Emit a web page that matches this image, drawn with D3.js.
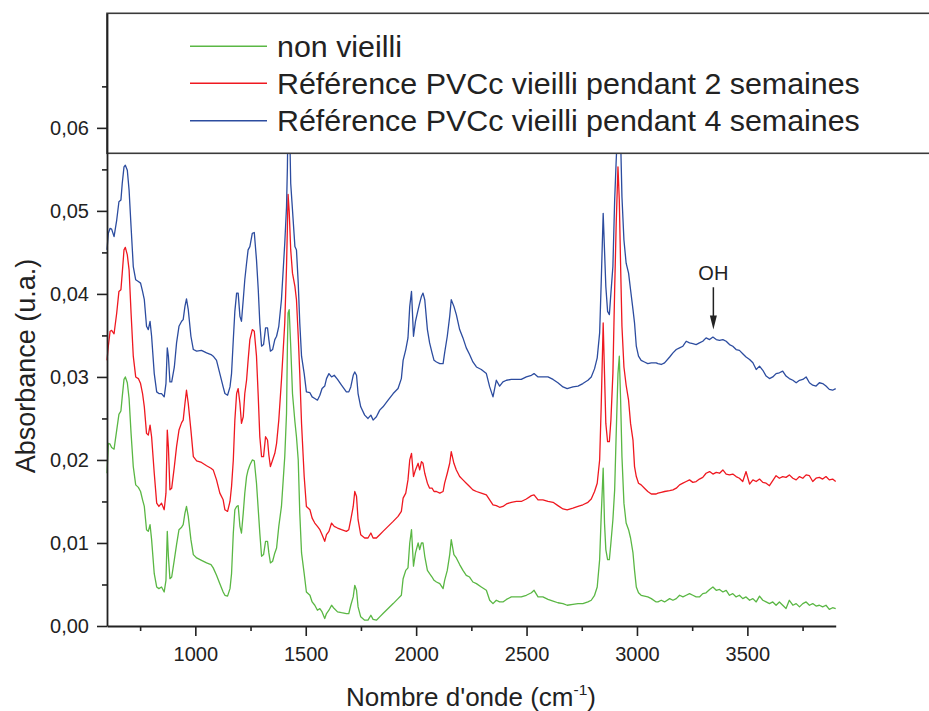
<!DOCTYPE html>
<html><head><meta charset="utf-8">
<script src="https://cdn.jsdelivr.net/npm/d3@7/dist/d3.min.js"></script>
<style>
html,body{margin:0;padding:0;background:#fff;}
svg{display:block;font-family:"Liberation Sans",Arial,Helvetica,sans-serif;}
</style></head>
<body>
<svg id="chart" width="929" height="711"></svg>
<script>
// ---- Data ----
const wavenumbers = [
600,606,614,621,632,644,654,663,669,677,683,692,700,709,719,730,742,752,761,769,
779,787,795,802,814,825,835,847,859,867,873,878,885,893,905,915,926,938,945,953,
960,968,980,991,1006,1028,1051,1071,1081,1096,1111,1126,1134,1146,1157,1164,1172,1179,1187,1194,
1202,1209,1217,1224,1232,1239,1247,1258,1267,1277,1285,1292,1300,1309,1318,1327,1333,1340,1350,1360,
1368,1378,1390,1405,1413,1417,1420,1425,1432,1440,1451,1458,1466,1473,1481,1493,
1503,1519,1529,1541,1553,1564,1574,1586,1594,1605,1617,1629,1644,1662,1684,1695,1704,1715,1722,1730,
1737,1749,1767,1782,1795,1805,1820,1835,1850,1873,1896,1918,1933,1941,1953,1963,1971,1979,1988,1997,
2009,2016,2024,2031,2039,2051,2061,2072,2081,2092,2107,2122,2129,2141,2152,2159,2171,2182,2197,2212,
2227,2242,2257,2273,2295,2318,2333,2348,
2363,2378,2393,2409,2431,2454,2476,2499,2522,2534,2552,2574,2597,2620,2642,2665,2684,2710,2733,2755,
2778,2793,2808,2820,2831,2838,2847,2853,2859,2867,2875,2882,2891,2899,2906,2914,2920,2926,2932,2941,
2951,2962,2971,2982,2989,2997,3007,3019,3034,3049,3065,3087,
3095,3110,3125,3148,3163,3178,3193,3208,3223,3238,3253,3268,3283,3298,3313,3329,3344,3359,3374,3389,
3404,3419,3434,3449,3464,3479,3494,3510,3525,3540,3555,3570,3585,3600,3615,3630,3645,3660,3675,3690,
3706,3721,3736,3751,3766,3781,3796,3811,3826,3841,3856,3871,3886,3900
];

const nonVieilli = [
0.0184,0.0220,0.0219,0.0215,0.0213,0.0236,0.0255,0.0259,0.0276,0.0297,
0.0300,0.0293,0.0274,0.0232,0.0192,0.0170,0.0167,0.0162,0.0152,0.0144,
0.0116,0.0114,0.0122,0.0104,0.0063,0.0047,0.0045,0.0047,0.0041,0.0055,
0.0114,0.0084,0.0057,0.0059,0.0080,0.0098,0.0116,0.0119,0.0122,0.0136,
0.0144,0.0132,0.0104,0.0086,0.0082,0.0079,0.0076,0.0074,0.0070,0.0061,
0.0051,0.0041,0.0037,0.0036,0.0045,0.0063,0.0112,0.0140,0.0144,0.0145,
0.0120,0.0112,0.0136,0.0160,0.0180,0.0188,0.0194,0.0200,0.0199,0.0172,
0.0140,0.0112,0.0084,0.0086,0.0102,0.0102,0.0088,0.0076,0.0078,0.0088,
0.0094,0.0120,0.0144,0.0204,0.0256,0.0337,0.0377,0.0381,0.0337,0.0280,
0.0246,0.0228,0.0200,0.0136,0.0088,0.0063,
0.0041,0.0037,0.0029,0.0025,0.0019,0.0021,0.0017,0.0009,0.0015,0.0019,
0.0025,0.0021,0.0017,0.0016,0.0015,0.0015,0.0025,0.0035,0.0049,0.0043,
0.0023,0.0011,0.0007,0.0007,0.0013,0.0008,0.0007,0.0011,0.0015,0.0021,
0.0027,0.0033,0.0037,0.0057,0.0067,0.0070,0.0100,0.0116,0.0072,0.0088,
0.0100,0.0092,0.0100,0.0100,0.0084,0.0067,0.0063,0.0059,0.0055,0.0053,
0.0051,0.0045,0.0055,0.0067,0.0086,0.0104,0.0086,0.0082,0.0074,0.0067,
0.0061,0.0059,0.0053,0.0051,0.0047,0.0043,0.0031,0.0027,
0.0031,0.0029,0.0029,0.0032,0.0035,0.0035,0.0035,0.0037,0.0040,0.0043,
0.0035,0.0035,0.0032,0.0030,0.0028,0.0027,0.0025,0.0026,0.0027,0.0027,
0.0029,0.0031,0.0037,0.0047,0.0080,0.0132,0.0190,0.0124,0.0092,0.0080,
0.0080,0.0100,0.0128,0.0164,0.0232,0.0304,0.0325,0.0272,0.0204,0.0148,
0.0124,0.0116,0.0106,0.0088,0.0067,0.0047,0.0040,0.0037,0.0036,0.0035,
0.0033,0.0029,
0.0029,0.0031,0.0029,0.0033,0.0031,0.0033,0.0037,0.0035,0.0037,0.0039,
0.0037,0.0035,0.0035,0.0039,0.0040,0.0044,0.0047,0.0043,0.0044,0.0041,
0.0043,0.0037,0.0039,0.0035,0.0037,0.0033,0.0035,0.0031,0.0033,0.0029,
0.0036,0.0031,0.0029,0.0027,0.0029,0.0025,0.0029,0.0025,0.0021,0.0031,
0.0025,0.0027,0.0023,0.0027,0.0029,0.0025,0.0027,0.0024,0.0025,0.0023,
0.0025,0.0020,0.0022,0.0021
];

const vieilli2sem = [
0.0320,0.0337,0.0355,0.0356,0.0352,0.0377,0.0403,0.0405,0.0425,0.0453,
0.0456,0.0447,0.0429,0.0377,0.0325,0.0300,0.0298,0.0292,0.0280,0.0264,
0.0232,0.0230,0.0242,0.0228,0.0184,0.0148,0.0144,0.0148,0.0140,0.0160,
0.0236,0.0216,0.0164,0.0166,0.0192,0.0216,0.0236,0.0245,0.0248,0.0268,
0.0284,0.0268,0.0236,0.0204,0.0199,0.0197,0.0193,0.0190,0.0188,0.0176,
0.0160,0.0152,0.0140,0.0138,0.0150,0.0168,0.0200,0.0248,0.0280,0.0286,
0.0268,0.0244,0.0252,0.0280,0.0296,0.0320,0.0345,0.0357,0.0355,0.0325,
0.0276,0.0228,0.0204,0.0204,0.0228,0.0224,0.0206,0.0192,0.0200,0.0208,
0.0220,0.0248,0.0296,0.0365,0.0433,0.0481,0.0520,0.0500,0.0453,0.0425,
0.0409,0.0393,0.0349,0.0304,0.0244,0.0180,
0.0144,0.0140,0.0130,0.0124,0.0120,0.0116,0.0110,0.0102,0.0110,0.0114,
0.0124,0.0120,0.0118,0.0116,0.0114,0.0116,0.0128,0.0144,0.0162,0.0156,
0.0128,0.0110,0.0106,0.0106,0.0112,0.0106,0.0106,0.0110,0.0114,0.0120,
0.0126,0.0132,0.0138,0.0154,0.0160,0.0176,0.0200,0.0208,0.0180,0.0188,
0.0196,0.0188,0.0198,0.0196,0.0184,0.0172,0.0166,0.0166,0.0162,0.0162,
0.0160,0.0162,0.0172,0.0184,0.0196,0.0210,0.0196,0.0188,0.0180,0.0176,
0.0172,0.0168,0.0164,0.0162,0.0160,0.0158,0.0152,0.0146,
0.0145,0.0143,0.0144,0.0147,0.0149,0.0150,0.0150,0.0153,0.0157,0.0158,
0.0152,0.0152,0.0150,0.0149,0.0145,0.0141,0.0140,0.0142,0.0144,0.0146,
0.0149,0.0153,0.0162,0.0172,0.0200,0.0264,0.0365,0.0304,0.0244,0.0222,
0.0222,0.0248,0.0304,0.0405,0.0485,0.0553,0.0513,0.0433,0.0361,0.0312,
0.0290,0.0272,0.0244,0.0224,0.0192,0.0180,0.0172,0.0170,0.0166,0.0162,
0.0159,0.0159,
0.0160,0.0161,0.0162,0.0163,0.0164,0.0166,0.0170,0.0172,0.0174,0.0176,
0.0173,0.0174,0.0177,0.0179,0.0184,0.0186,0.0183,0.0185,0.0184,0.0188,
0.0183,0.0182,0.0183,0.0180,0.0178,0.0174,0.0186,0.0171,0.0176,0.0174,
0.0177,0.0173,0.0172,0.0169,0.0175,0.0181,0.0178,0.0180,0.0179,0.0182,
0.0178,0.0176,0.0180,0.0178,0.0182,0.0181,0.0174,0.0178,0.0179,0.0177,
0.0180,0.0176,0.0177,0.0174
];

const vieilli4sem = [
0.0453,0.0473,0.0479,0.0478,0.0469,0.0489,0.0511,0.0513,0.0533,0.0553,
0.0555,0.0549,0.0525,0.0481,0.0433,0.0417,0.0415,0.0413,0.0403,0.0393,
0.0361,0.0357,0.0367,0.0349,0.0304,0.0282,0.0280,0.0280,0.0276,0.0292,
0.0335,0.0325,0.0294,0.0294,0.0312,0.0341,0.0361,0.0367,0.0369,0.0385,
0.0394,0.0381,0.0349,0.0333,0.0331,0.0332,0.0329,0.0327,0.0325,0.0320,
0.0304,0.0288,0.0280,0.0278,0.0288,0.0304,0.0345,0.0379,0.0401,0.0401,
0.0373,0.0367,0.0393,0.0417,0.0437,0.0453,0.0457,0.0473,0.0474,0.0441,
0.0405,0.0365,0.0337,0.0339,0.0359,0.0359,0.0345,0.0331,0.0333,0.0345,
0.0349,0.0361,0.0393,0.0461,0.0505,0.0553,0.0620,0.0630,0.0533,0.0501,
0.0457,0.0453,0.0413,0.0365,0.0325,0.0304,
0.0282,0.0281,0.0276,0.0274,0.0272,0.0278,0.0286,0.0289,0.0298,0.0304,
0.0300,0.0302,0.0297,0.0290,0.0282,0.0282,0.0288,0.0302,0.0306,0.0302,
0.0280,0.0264,0.0254,0.0250,0.0254,0.0248,0.0252,0.0260,0.0264,0.0272,
0.0280,0.0286,0.0298,0.0320,0.0333,0.0347,0.0385,0.0403,0.0349,0.0367,
0.0381,0.0389,0.0397,0.0401,0.0393,0.0357,0.0341,0.0329,0.0320,0.0318,
0.0316,0.0316,0.0329,0.0349,0.0373,0.0393,0.0385,0.0375,0.0357,0.0347,
0.0335,0.0327,0.0318,0.0312,0.0309,0.0304,0.0288,0.0276,
0.0296,0.0289,0.0294,0.0296,0.0297,0.0297,0.0297,0.0300,0.0302,0.0304,
0.0300,0.0300,0.0300,0.0297,0.0293,0.0288,0.0286,0.0288,0.0289,0.0292,
0.0296,0.0300,0.0310,0.0323,0.0353,0.0413,0.0497,0.0453,0.0409,0.0379,
0.0375,0.0401,0.0433,0.0513,0.0561,0.0610,0.0626,0.0586,0.0517,0.0465,
0.0437,0.0425,0.0405,0.0381,0.0365,0.0337,0.0325,0.0320,0.0318,0.0316,
0.0317,0.0317,
0.0316,0.0315,0.0317,0.0324,0.0329,0.0333,0.0335,0.0337,0.0343,0.0341,
0.0340,0.0339,0.0341,0.0343,0.0347,0.0345,0.0348,0.0345,0.0344,0.0345,
0.0343,0.0339,0.0337,0.0333,0.0332,0.0328,0.0324,0.0321,0.0317,0.0309,
0.0313,0.0308,0.0301,0.0298,0.0300,0.0304,0.0305,0.0307,0.0301,0.0298,
0.0296,0.0293,0.0296,0.0297,0.0300,0.0293,0.0290,0.0289,0.0293,0.0292,
0.0289,0.0285,0.0284,0.0286
];

const seriesNames = ["non vieilli", "Référence PVCc vieilli pendant 2 semaines", "Référence PVCc vieilli pendant 4 semaines"];
const seriesColors = ["#5ab744", "#ef1820", "#2c4c9f"];
const xMajorTicks = [1000, 1500, 2000, 2500, 3000, 3500];
const xMinorTicks = [750, 1250, 1750, 2250, 2750, 3250, 3750];
const yMajorTicks = [0, 0.01, 0.02, 0.03, 0.04, 0.05, 0.06];
const yMinorTicks = [0.005, 0.015, 0.025, 0.035, 0.045, 0.055, 0.065];
const xDomain = [600, 3900];
const yDomain = [0, 0.0738];
const ohAnnotation = {label: "OH", wn: 3346, labelAbs: 0.0417, tailAbs: 0.0408, tipAbs: 0.0357};

// ---- Drawing ----
const svg = d3.select("#chart");
svg.append("rect").attr("width", 929).attr("height", 711).attr("fill", "#fff");

const x = d3.scaleLinear().domain(xDomain).range([107, 835.7]);
const y = d3.scaleLinear().domain(yDomain).range([626, 13.3]);

const seriesData = [nonVieilli, vieilli2sem, vieilli4sem];
const line = d3.line().x(d => x(d[0])).y(d => y(d[1]));

const curves = svg.append("g");
seriesData.forEach((vals, i) => {
  const pts = wavenumbers.map((w, k) => [w, vals[k]]);
  curves.append("path")
    .datum(pts)
    .attr("d", line)
    .attr("fill", "none")
    .attr("stroke", seriesColors[i])
    .attr("stroke-width", 1.3)
    .attr("stroke-linejoin", "round");
});

// Legend box (white, covering top of plot)
const legend = svg.append("g");
legend.append("rect")
  .attr("x", x(xDomain[0])).attr("y", y(yDomain[1]))
  .attr("width", 860).attr("height", 140)
  .attr("fill", "#fff").attr("stroke", "#3a3a3a").attr("stroke-width", 1.6);
const legY = [46.3, 83.3, 120.7];
seriesNames.forEach((name, i) => {
  legend.append("line")
    .attr("x1", 190).attr("x2", 267).attr("y1", legY[i]).attr("y2", legY[i])
    .attr("stroke", seriesColors[i]).attr("stroke-width", 1.4);
  legend.append("text")
    .attr("x", 277).attr("y", legY[i] + 10.5)
    .attr("font-size", 30.4).attr("fill", "#222")
    .text(name);
});

// Axes
const fmt = v => d3.format(".2f")(v).replace(".", ",");
svg.append("g").attr("transform", `translate(0,${y(0)})`)
  .call(d3.axisBottom(x).tickValues(xMajorTicks).tickSize(10).tickSizeOuter(0).tickPadding(11).tickFormat(d3.format("d")));
svg.append("g").attr("transform", `translate(0,${y(0)})`)
  .call(d3.axisBottom(x).tickValues(xMinorTicks).tickSize(5).tickSizeOuter(0).tickFormat(""))
  .select(".domain").remove();
svg.append("g").attr("transform", `translate(${x(xDomain[0])},0)`)
  .call(d3.axisLeft(y).tickValues(yMajorTicks).tickSize(10).tickSizeOuter(0).tickPadding(8).tickFormat(fmt));
svg.append("g").attr("transform", `translate(${x(xDomain[0])},0)`)
  .call(d3.axisLeft(y).tickValues(yMinorTicks).tickSize(5).tickSizeOuter(0).tickFormat(""))
  .select(".domain").remove();

svg.selectAll(".domain").attr("stroke", "#222").attr("stroke-width", 1.8);
svg.selectAll(".tick line").attr("stroke", "#222").attr("stroke-width", 1.6);
svg.selectAll(".tick text").attr("font-size", 20).attr("fill", "#222")
  .attr("font-family", "'Liberation Sans', Arial, sans-serif");

// Axis titles
const xt = svg.append("text").attr("x", 471).attr("y", 706)
  .attr("text-anchor", "middle").attr("font-size", 26).attr("fill", "#222");
xt.append("tspan").text("Nombre d'onde (cm");
xt.append("tspan").attr("font-size", 15.5).attr("dy", -11).text("-1");
xt.append("tspan").attr("dy", 11).text(")");

svg.append("text")
  .attr("transform", "translate(35,366) rotate(-90)")
  .attr("text-anchor", "middle").attr("font-size", 27).attr("fill", "#222")
  .text("Absorbance (u.a.)");

// OH annotation
const ox = x(ohAnnotation.wn);
svg.append("text").attr("x", ox).attr("y", y(ohAnnotation.labelAbs))
  .attr("text-anchor", "middle").attr("font-size", 20).attr("fill", "#222")
  .text(ohAnnotation.label);
svg.append("line").attr("x1", ox).attr("x2", ox)
  .attr("y1", y(ohAnnotation.tailAbs)).attr("y2", y(ohAnnotation.tipAbs) - 12)
  .attr("stroke", "#222").attr("stroke-width", 1.5);
svg.append("path")
  .attr("d", `M${ox - 3.5},${y(ohAnnotation.tipAbs) - 14} L${ox + 3.5},${y(ohAnnotation.tipAbs) - 14} L${ox},${y(ohAnnotation.tipAbs)} Z`)
  .attr("fill", "#222");
</script>
</body></html>
